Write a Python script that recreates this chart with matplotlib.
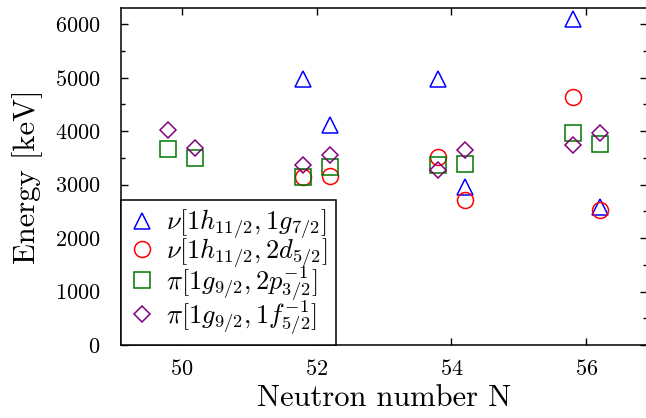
import numpy as np
import matplotlib
matplotlib.use("Agg")
import matplotlib.pyplot as plt
from matplotlib.ticker import MultipleLocator

plt.rcParams['font.family'] = 'serif'
plt.rcParams['font.serif'] = ['cmr10']
plt.rcParams['mathtext.fontset'] = 'cm'
plt.rcParams['axes.formatter.use_mathtext'] = True

# neutron number of each point (offset +-0.2 around the even N)
n_nu_g = [51.8, 52.2, 53.8, 54.2, 55.8, 56.2]
e_nu_g = [4970, 4120, 4980, 2960, 6100, 2575]

n_nu_d = [51.8, 52.2, 53.8, 54.2, 55.8, 56.2]
e_nu_d = [3145, 3160, 3520, 2710, 4640, 2525]

n_pi_p = [49.8, 50.2, 51.8, 52.2, 53.8, 54.2, 55.8, 56.2]
e_pi_p = [3665, 3490, 3135, 3335, 3365, 3385, 3970, 3755]

n_pi_f = [49.8, 50.2, 51.8, 52.2, 53.8, 54.2, 55.8, 56.2]
e_pi_f = [4020, 3675, 3365, 3550, 3270, 3645, 3740, 3970]

labels = [r'$\nu[1h_{11/2},1g_{7/2}]$',
          r'$\nu[1h_{11/2},2d_{5/2}]$',
          r'$\pi[1g_{9/2},2p^{-1}_{3/2}]$',
          r'$\pi[1g_{9/2},1f^{-1}_{5/2}]$']

fig = plt.figure(figsize=(6.46, 4.18), dpi=100)
ax = fig.add_axes([121/646, 73/418, 526/646, 337/418])

ms = 11.5
mew = 1.1
ax.plot(n_nu_g, e_nu_g, ls='none', marker='^', ms=ms, mew=mew, mfc='none', mec='#0000ff', label=labels[0])
ax.plot(n_nu_d, e_nu_d, ls='none', marker='o', ms=ms, mew=mew, mfc='none', mec='#ff0000', label=labels[1])
ax.plot(n_pi_p, e_pi_p, ls='none', marker='s', ms=ms, mew=mew, mfc='none', mec='#007700', label=labels[2])
ax.plot(n_pi_f, e_pi_f, ls='none', marker='D', ms=8.2, mew=mew, mfc='none', mec='#800080', label=labels[3])

ax.set_xlim(49.1, 56.9)
ax.set_ylim(0, 6300)
ax.xaxis.set_major_locator(MultipleLocator(2))
ax.yaxis.set_major_locator(MultipleLocator(1000))
ax.yaxis.set_minor_locator(MultipleLocator(500))

ax.tick_params(which='both', direction='in', top=True, right=True, labelsize=16, width=1)
ax.tick_params(which='major', length=5)
ax.tick_params(axis='y', which='major', pad=15)
ax.tick_params(axis='x', which='major', pad=10)
ax.tick_params(which='minor', length=3)
for s in ax.spines.values():
    s.set_linewidth(1.1)

ax.set_xlabel('Neutron number N', fontsize=22, labelpad=4)
ax.set_ylabel('Energy [keV]', fontsize=22, labelpad=8)

leg = ax.legend(loc='lower left', bbox_to_anchor=(0, 0), borderaxespad=0, fontsize=19,
                fancybox=False, edgecolor='black', framealpha=1, numpoints=1,
                handlelength=1.0, handletextpad=0.4, labelspacing=-0.2, borderpad=0.3)
leg.get_frame().set_linewidth(1.1)

fig.savefig('out.png', dpi=100)
